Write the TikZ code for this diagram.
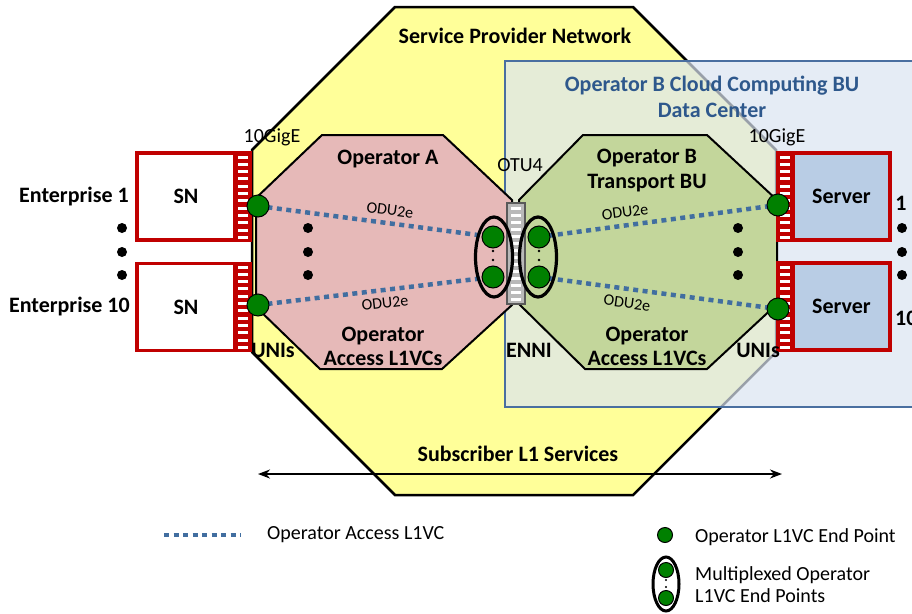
\documentclass[tikz,border=0pt]{standalone}
\usepackage{fontspec}
\setmainfont{Carlito}
\usetikzlibrary{arrows.meta,shapes.geometric}
\definecolor{yel}{RGB}{255,255,153}
\definecolor{pinkA}{RGB}{230,185,184}
\definecolor{greenB}{RGB}{195,214,155}
\definecolor{boxblue}{RGB}{219,229,242}
\definecolor{boxedge}{RGB}{74,111,160}
\definecolor{titleblue}{RGB}{46,88,140}
\definecolor{dotblue}{RGB}{65,110,160}
\definecolor{portred}{RGB}{192,0,0}
\definecolor{servfill}{RGB}{185,205,229}
\definecolor{epgreen}{RGB}{0,128,0}
\definecolor{bargray}{RGB}{89,89,89}
\begin{document}
\begin{tikzpicture}[x=1pt,y=-1pt,
  lbl/.style={font=\fontsize{22}{24}\selectfont\bfseries, inner sep=0pt, align=center},
  txt/.style={font=\fontsize{20}{24}\selectfont, inner sep=0pt, align=left},
  odu/.style={font=\fontsize{16}{18}\selectfont, inner sep=0pt},
  ep/.style={circle, fill=epgreen, draw=black, line width=1pt, minimum size=22pt, inner sep=0pt},
  legep/.style={circle, fill=epgreen, draw=black, line width=1pt, minimum size=15pt, inner sep=0pt},
  smalldot/.style={circle, fill=black, minimum size=2.6pt, inner sep=0pt},
  bigdot/.style={circle, fill=black, minimum size=10pt, inner sep=0pt},
  vc/.style={draw=dotblue, line width=4.5pt, dash pattern=on 5pt off 4.5pt},
  mux/.style={ellipse, draw=black, line width=3.2pt, minimum width=37pt, minimum height=80pt, inner sep=0pt},
  snbox/.style={rectangle, draw=portred, fill=white, line width=3.5pt, minimum width=98pt, minimum height=87pt, inner sep=0pt, font=\fontsize{22}{24}\selectfont\bfseries},
  srvbox/.style={rectangle, draw=portred, fill=servfill, line width=3.5pt, minimum width=97pt, minimum height=87pt, inner sep=0pt, font=\fontsize{22}{24}\selectfont\bfseries},
  portstrip/.style={rectangle, draw=portred, fill=portred, line width=3.5pt, minimum width=15pt, minimum height=87pt, inner sep=0pt},
  otubar/.style={rectangle, draw=bargray, fill=gray!55, line width=2.5pt, minimum width=18pt, minimum height=101pt, inner sep=0pt}
]
\useasboundingbox (0,0) rectangle (912,613);
\fill[white] (0,0) rectangle (912,613);

% Service provider network octagon
\filldraw[fill=yel, draw=black, line width=2.5pt]
  (395,7) -- (633,7) -- (776,150) -- (776,352) -- (633,495) -- (395,495) -- (252,352) -- (252,150) -- cycle;

% Operator B Cloud Computing BU Data Center box
\fill[boxblue, fill opacity=0.7] (505,61) rectangle (930,407);
\draw[boxedge, line width=2pt] (930,61) -- (505,61) -- (505,407) -- (930,407);

% Operator octagons
\filldraw[fill=pinkA, draw=black, line width=2pt]
  (322,135) -- (443,135) -- (512,200) -- (512,305) -- (442,369) -- (320,369) -- (256,307) -- (256,198) -- cycle;
\filldraw[fill=greenB, draw=black, line width=2pt]
  (583,135) -- (707,135) -- (777,200) -- (777,304) -- (707,369) -- (585,369) -- (519,304) -- (519,200) -- cycle;

% end point positions
\coordinate (uA1) at (258,206);
\coordinate (uA2) at (258,305);
\coordinate (mA1) at (493,237);
\coordinate (mA2) at (493,277);
\coordinate (mB1) at (539,237);
\coordinate (mB2) at (539,277);
\coordinate (uB1) at (778,205);
\coordinate (uB2) at (778,309);

% access L1VCs
\draw[vc] (uA1) -- (mA1);
\draw[vc] (uA2) -- (mA2);
\draw[vc] (mB1) -- (uB1);
\draw[vc] (mB2) -- (uB2);

% OTU4 bar
\node[otubar] (otu) at (516,253.5) {};
\foreach \i in {0,...,13} \fill[white] (511,206.5+7*\i) rectangle (521,209.5+7*\i);

% multiplexed end points
\node[mux] (muxA) at (494,257) {};
\node[mux] (muxB) at (538,257) {};
\node[ep] (epA1) at (mA1) {};
\node[ep] (epA2) at (mA2) {};
\node[ep] (epB1) at (mB1) {};
\node[ep] (epB2) at (mB2) {};
\node[smalldot] at (493,251) {};
\node[smalldot] at (493,260) {};
\node[smalldot] at (539,251) {};
\node[smalldot] at (539,260) {};

% SN boxes
\node[snbox] (sn1) at (186,196.5) {SN};
\node[portstrip] (p1) at (242.5,196.5) {};
\node[snbox] (sn2) at (186,307) {SN};
\node[portstrip] (p2) at (242.5,307) {};
\foreach \y in {153,263} {
  \foreach \i in {0,...,11} \fill[white] (238,\y+2.5+7.3*\i) rectangle (247.5,\y+5.5+7.3*\i);
}

% Server boxes
\node[srvbox] (sv1) at (841.5,196.5) {Server};
\node[portstrip] (q1) at (785,196.5) {};
\node[srvbox] (sv2) at (841.5,306.5) {Server};
\node[portstrip] (q2) at (785,306.5) {};
\foreach \y in {153,263} {
  \foreach \i in {0,...,11} \fill[white] (780,\y+2.5+7.3*\i) rectangle (790,\y+5.5+7.3*\i);
}

% UNI end points
\node[ep] (epU1) at (uA1) {};
\node[ep] (epU2) at (uA2) {};
\node[ep] (epS1) at (uB1) {};
\node[ep] (epS2) at (uB2) {};

% ellipsis dots
\foreach \x in {122,308,738,902} {
  \node[bigdot] at (\x,228) {};
  \node[bigdot] at (\x,252) {};
  \node[bigdot] at (\x,275) {};
}

% labels
\node[lbl] (spn) at (515,36) {Service Provider Network};
\node[lbl, text=titleblue, font=\fontsize{22}{26}\selectfont\bfseries] (dc) at (712,97) {Operator B Cloud Computing BU\\Data Center};
\node[txt] (ge1) at (272,137) {10GigE};
\node[txt] (ge2) at (777,137) {10GigE};
\node[txt] (otul) at (520,165) {OTU4};
\node[lbl] (enni) at (529,350) {ENNI};
\node[lbl] (uni1) at (273,350) {UNIs};
\node[lbl] (uni2) at (758,350) {UNIs};
\node[lbl] (opa) at (388,159) {Operator A};
\node[lbl] (opaacc) at (383,346) {Operator\\Access L1VCs};
\node[lbl, font=\fontsize{22}{25}\selectfont\bfseries] (opb) at (647,170.5) {Operator B\\Transport BU};
\node[lbl] (opbacc) at (647,346) {Operator\\Access L1VCs};
\node[lbl, anchor=east] (ent1) at (129,197) {Enterprise 1};
\node[lbl, anchor=east] (ent10) at (130,307) {Enterprise 10};
\node[lbl] (n1) at (901,203) {1};
\node[lbl, anchor=west] (n10) at (895,318) {10};

\node[odu, rotate=-7.5] (o1) at (390,210) {ODU2e};
\node[odu, rotate=6.6] (o2) at (385,303) {ODU2e};
\node[odu, rotate=7.7] (o3) at (625,212) {ODU2e};
\node[odu, rotate=-7.6] (o4) at (627,303) {ODU2e};

% subscriber services
\node[lbl] (subs) at (518,454) {Subscriber L1 Services};
\coordinate (sL) at (258,474);
\coordinate (sR) at (782,474);
\draw[line width=2pt, {Stealth[length=12pt,width=9pt]}-{Stealth[length=12pt,width=9pt]}] (sL) -- (sR);

% legend
\coordinate (lg1) at (164,535);
\coordinate (lg2) at (241,535);
\draw[vc] (lg1) -- (lg2);
\node[txt, anchor=west] (lgt1) at (267,535) {Operator Access L1VC};
\node[legep] (lgep) at (665,535) {};
\node[txt, anchor=west] (lgt2) at (695,537) {Operator L1VC End Point};
\node[ellipse, draw=black, line width=3pt, minimum width=26pt, minimum height=54pt, inner sep=0pt] (lgmux) at (666,584) {};
\node[legep] at (666,570) {};
\node[legep] at (666,598) {};
\node[smalldot, minimum size=2.2pt] at (666,580) {};
\node[smalldot, minimum size=2.2pt] at (666,587) {};
\node[txt, anchor=west, font=\fontsize{20}{22}\selectfont] (lgt3) at (695,585) {Multiplexed Operator\\L1VC End Points};
\end{tikzpicture}
\end{document}
